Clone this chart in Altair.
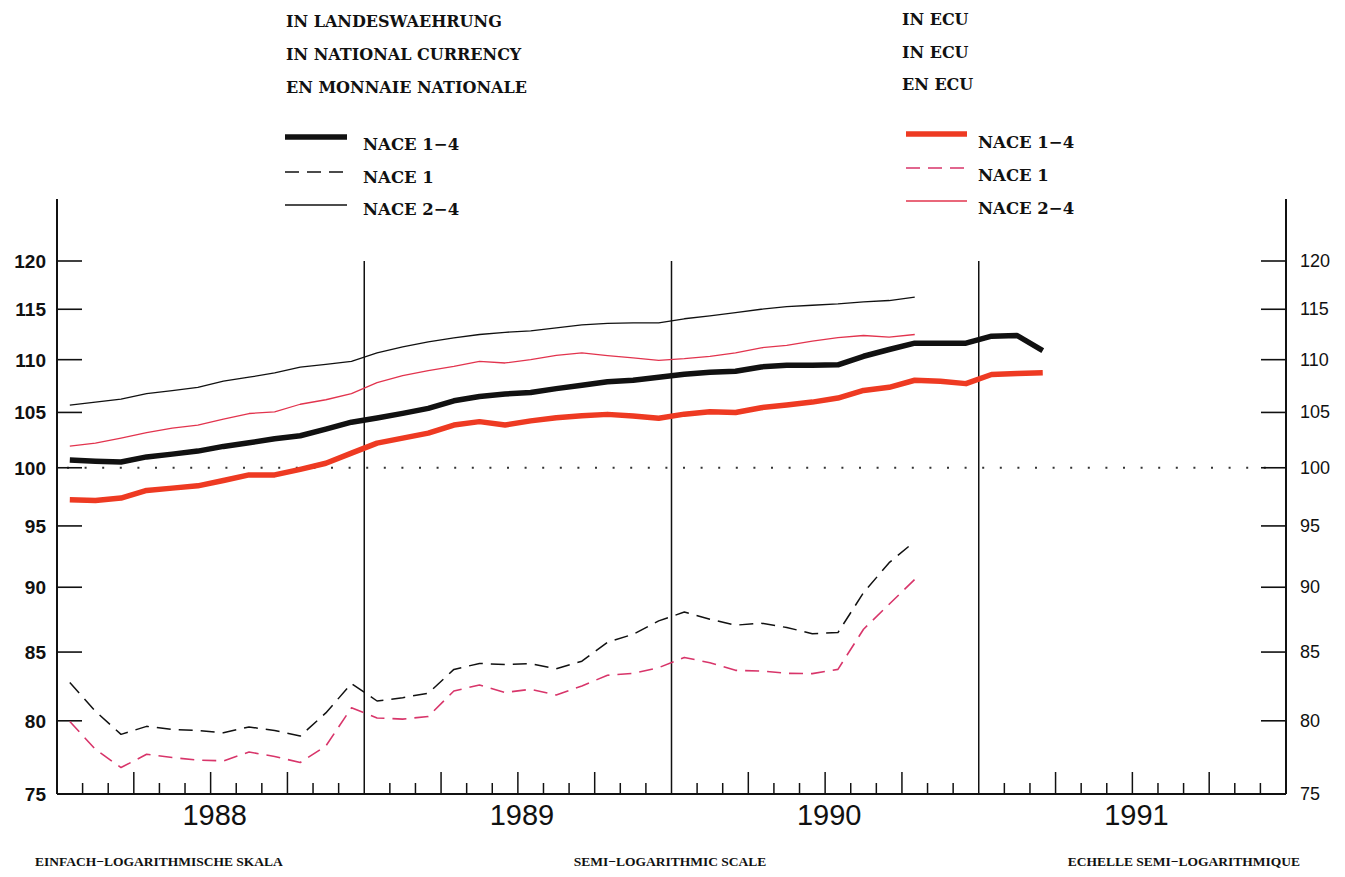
import altair as alt
import pandas as pd

# ---------------- data (monthly index values, Jan 1988 = month 0) ----------------
nat_1_4 = [100.69, 100.58, 100.51, 100.96, 101.21, 101.48, 101.90, 102.23, 102.59, 102.86, 103.47, 104.10,
           104.48, 104.91, 105.38, 106.08, 106.49, 106.72, 106.87, 107.23, 107.54, 107.87, 108.02, 108.31,
           108.60, 108.79, 108.89, 109.30, 109.46, 109.46, 109.50, 110.33, 110.99, 111.61, 111.61, 111.61,
           112.30, 112.37, 110.89]
nat_1 = [82.74, 80.68, 79.05, 79.61, 79.39, 79.32, 79.16, 79.57, 79.32, 78.93, 80.56, 82.67,
         81.41, 81.65, 81.97, 83.71, 84.15, 84.08, 84.13, 83.76, 84.32, 85.74, 86.34, 87.37,
         88.05, 87.50, 87.04, 87.19, 86.86, 86.39, 86.47, 89.57, 91.97, 93.71]
nat_2_4 = [105.67, 105.96, 106.24, 106.75, 107.04, 107.35, 107.93, 108.31, 108.73, 109.27, 109.55, 109.84,
           110.66, 111.25, 111.75, 112.14, 112.47, 112.69, 112.83, 113.13, 113.42, 113.58, 113.62, 113.62,
           114.04, 114.34, 114.66, 115.00, 115.27, 115.41, 115.55, 115.76, 115.89, 116.24]
ecu_1_4 = [97.22, 97.16, 97.36, 98.02, 98.22, 98.42, 98.88, 99.37, 99.37, 99.86, 100.40, 101.30,
           102.20, 102.65, 103.10, 103.84, 104.15, 103.84, 104.22, 104.51, 104.69, 104.82, 104.67, 104.46,
           104.84, 105.06, 105.00, 105.44, 105.70, 105.96, 106.34, 107.06, 107.35, 108.02, 107.93, 107.70,
           108.57, 108.67, 108.73]
ecu_1 = [79.95, 78.01, 76.77, 77.67, 77.45, 77.28, 77.22, 77.83, 77.52, 77.11, 78.24, 80.92,
         80.20, 80.12, 80.31, 82.13, 82.57, 82.02, 82.26, 81.84, 82.50, 83.28, 83.42, 83.84,
         84.60, 84.20, 83.64, 83.59, 83.42, 83.40, 83.71, 86.73, 88.66, 90.62]
ecu_2_4 = [101.93, 102.20, 102.65, 103.15, 103.55, 103.84, 104.38, 104.90, 105.06, 105.76, 106.18, 106.75,
           107.80, 108.47, 108.95, 109.36, 109.84, 109.68, 110.00, 110.42, 110.66, 110.39, 110.17, 109.93,
           110.10, 110.33, 110.66, 111.16, 111.39, 111.81, 112.15, 112.37, 112.20, 112.47]

years = ["1988", "1989", "1990", "1991"]
year_mid = [6, 18, 30, 42]
year_bounds = [12, 24, 36]
y_ticks = [80, 85, 90, 95, 100, 105, 110, 115, 120]
y_labels = [75, 80, 85, 90, 95, 100, 105, 110, 115, 120]
quarter_marks = [m for m in range(1, 48) if m % 3 == 0 and m % 12 != 0]
month_marks = [m for m in range(1, 48) if m % 3 != 0]

title_nat = ["IN LANDESWAEHRUNG", "IN NATIONAL CURRENCY", "EN MONNAIE NATIONALE"]
title_ecu = ["IN ECU", "IN ECU", "EN ECU"]
legend_items = ["NACE 1\u22124", "NACE 1", "NACE 2\u22124"]

W, H = 1229, 533
xs = alt.Scale(domain=[0, 48], nice=False, zero=False)
ys = alt.Scale(type="log", domain=[75, 120], nice=False, zero=False)

BLACK = "#111111"
RED_THICK = "#ee3a22"
RED_THIN = "#e2344e"
RED_DASH = "#d8356a"
SERIF = "DejaVu Serif"
SANS = "Liberation Sans"


def series_df(vals):
    return pd.DataFrame({"m": [i + 0.5 for i in range(len(vals))], "v": vals})


def line(vals, color, width, dash=None):
    kw = dict(color=color, strokeWidth=width, strokeJoin="round", strokeCap="butt")
    if dash:
        kw["strokeDash"] = dash
    return alt.Chart(series_df(vals)).mark_line(**kw).encode(
        x=alt.X("m:Q", scale=xs, axis=None),
        y=alt.Y("v:Q", scale=ys, axis=None),
    )


layers = []

# dotted 100 reference line
layers.append(
    alt.Chart(pd.DataFrame({"v": [100]})).mark_rule(color="#333333", strokeWidth=2, strokeDash=[2, 15.6]).encode(
        y=alt.Y("v:Q", scale=ys, axis=None), x=alt.value(10), x2=alt.value(W - 6)
    )
)

# year separators
layers.append(
    alt.Chart(pd.DataFrame({"m": year_bounds})).mark_rule(color=BLACK, strokeWidth=1.5).encode(
        x=alt.X("m:Q", scale=xs, axis=None), y=alt.value(0), y2=alt.value(H)
    )
)
# left / right axis lines
layers.append(
    alt.Chart(pd.DataFrame({"m": [0, 48]})).mark_rule(color=BLACK, strokeWidth=2).encode(
        x=alt.X("m:Q", scale=xs, axis=None), y=alt.value(-62), y2=alt.value(H)
    )
)
# bottom axis line
layers.append(
    alt.Chart(pd.DataFrame({"v": [75]})).mark_rule(color=BLACK, strokeWidth=2).encode(
        y=alt.Y("v:Q", scale=ys, axis=None), x=alt.value(0), x2=alt.value(W)
    )
)
# month ticks
layers.append(
    alt.Chart(pd.DataFrame({"m": month_marks})).mark_rule(color=BLACK, strokeWidth=1.5).encode(
        x=alt.X("m:Q", scale=xs, axis=None), y=alt.value(H - 11), y2=alt.value(H)
    )
)
layers.append(
    alt.Chart(pd.DataFrame({"m": quarter_marks})).mark_rule(color=BLACK, strokeWidth=1.5).encode(
        x=alt.X("m:Q", scale=xs, axis=None), y=alt.value(H - 22), y2=alt.value(H)
    )
)
# y ticks left and right
layers.append(
    alt.Chart(pd.DataFrame({"v": y_ticks})).mark_rule(color=BLACK, strokeWidth=1.6).encode(
        y=alt.Y("v:Q", scale=ys, axis=None), x=alt.value(0), x2=alt.value(25)
    )
)
layers.append(
    alt.Chart(pd.DataFrame({"v": y_ticks})).mark_rule(color=BLACK, strokeWidth=1.6).encode(
        y=alt.Y("v:Q", scale=ys, axis=None), x=alt.value(W - 25), x2=alt.value(W)
    )
)
# y labels
layers.append(
    alt.Chart(pd.DataFrame({"v": y_labels})).mark_text(
        align="right", baseline="middle", font=SANS, fontSize=19, fontWeight="bold", color=BLACK, dy=1
    ).encode(y=alt.Y("v:Q", scale=ys, axis=None), x=alt.value(-11), text=alt.Text("v:Q", format="d"))
)
layers.append(
    alt.Chart(pd.DataFrame({"v": y_labels})).mark_text(
        align="left", baseline="middle", font=SANS, fontSize=18, color=BLACK, dy=1
    ).encode(y=alt.Y("v:Q", scale=ys, axis=None), x=alt.value(W + 14), text=alt.Text("v:Q", format="d"))
)
# year labels
layers.append(
    alt.Chart(pd.DataFrame({"m": year_mid, "t": years})).mark_text(
        align="center", baseline="middle", font="Liberation Sans Narrow, Liberation Sans", fontSize=29,
        color=BLACK, dx=4
    ).encode(x=alt.X("m:Q", scale=xs, axis=None), y=alt.value(H + 22), text="t:N")
)

# data lines
layers.append(line(nat_2_4, BLACK, 1.3))
layers.append(line(nat_1, BLACK, 1.5, [14, 8]))
layers.append(line(ecu_2_4, RED_THIN, 1.3))
layers.append(line(ecu_1, RED_DASH, 1.6, [14, 8]))
layers.append(line(ecu_1_4, RED_THICK, 5.5))
layers.append(line(nat_1_4, BLACK, 5.5))


# ---------------- titles, legends, captions ----------------
def label(txt, x, y, size, font, weight="normal", align="left", color=BLACK):
    return alt.Chart(pd.DataFrame({"t": [txt]})).mark_text(
        align=align, baseline="middle", font=font, fontSize=size, fontWeight=weight, color=color
    ).encode(x=alt.value(x), y=alt.value(y), text="t:N")


def legend_line(x1, x2, y, color, width, dash=None):
    kw = dict(color=color, strokeWidth=width)
    if dash:
        kw["strokeDash"] = dash
    return alt.Chart(pd.DataFrame({"k": [0]})).mark_rule(**kw).encode(
        x=alt.value(x1), x2=alt.value(x2), y=alt.value(y)
    )


for i, t in enumerate(title_nat):
    layers.append(label(t, 229, -239 + 33 * i, 16, SERIF, "bold"))
for i, t in enumerate(title_ecu):
    layers.append(label(t, 845, -241 + 32.5 * i, 16, SERIF, "bold"))

# national currency legend
layers.append(legend_line(228, 290, -124, BLACK, 5.5))
layers.append(legend_line(228, 290, -89, BLACK, 1.5, [14, 8]))
layers.append(legend_line(228, 290, -56, BLACK, 1.3))
for i, t in enumerate(legend_items):
    layers.append(label(t, 306, -116 + 32.5 * i, 16.5, SERIF, "bold"))

# ECU legend
layers.append(legend_line(849, 910, -127, RED_THICK, 5.5))
layers.append(legend_line(849, 910, -93, RED_DASH, 1.6, [14, 8]))
layers.append(legend_line(849, 910, -60, RED_THIN, 1.3))
for i, t in enumerate(legend_items):
    layers.append(label(t, 921, -118 + 33 * i, 16.5, SERIF, "bold"))

# bottom captions
layers.append(label("EINFACH\u2212LOGARITHMISCHE SKALA", -22, 601, 13.5, "Liberation Serif", "bold"))
layers.append(label("SEMI\u2212LOGARITHMIC SCALE", 613, 601, 13.5, "Liberation Serif", "bold", align="center"))
layers.append(label("ECHELLE SEMI\u2212LOGARITHMIQUE", 1243, 601, 13.5, "Liberation Serif", "bold", align="right"))

chart = (
    alt.layer(*layers)
    .properties(
        width=W,
        height=H,
        autosize=alt.AutoSizeParams(type="none"),
        padding={"left": 49, "top": 253, "right": 45, "bottom": 75},
        background="white",
    )
    .configure_view(stroke=None)
)

chart.save("out.html", embed_options={"renderer": "svg", "actions": False})
